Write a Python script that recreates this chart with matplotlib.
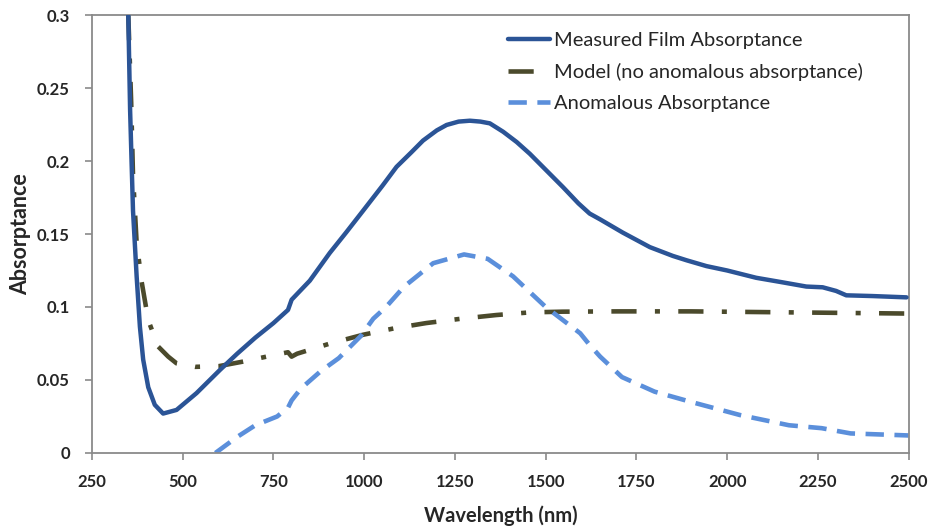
import matplotlib
matplotlib.use("Agg")
import matplotlib.pyplot as plt

plt.rcParams['font.family'] = ['Lato', 'DejaVu Sans']

# Measured film absorptance
meas_wl = [350, 355, 359, 363, 373, 382, 391, 405, 423, 446, 483, 538, 603, 650, 700, 750,
           790, 800, 850, 905, 950, 997, 1050, 1089, 1130, 1162, 1200, 1227, 1260, 1291,
           1320, 1346, 1383, 1420, 1456, 1500, 1548, 1590, 1621, 1650, 1712, 1787, 1850,
           1888, 1943, 2000, 2080, 2150, 2218, 2263, 2300, 2328, 2400, 2494]
meas_val = [0.300, 0.235, 0.200, 0.166, 0.121, 0.0865, 0.064, 0.045, 0.033, 0.027, 0.0295,
            0.041, 0.057, 0.068, 0.079, 0.089, 0.098, 0.105, 0.118, 0.137, 0.151, 0.166,
            0.183, 0.196, 0.206, 0.214, 0.221, 0.2247, 0.227, 0.2276, 0.227, 0.2258, 0.220,
            0.213, 0.205, 0.194, 0.182, 0.171, 0.164, 0.160, 0.151, 0.141, 0.135, 0.132,
            0.128, 0.125, 0.120, 0.117, 0.114, 0.1135, 0.111, 0.108, 0.1075, 0.1066]

# Model (no anomalous absorptance)
model_wl = [350, 358, 363, 373, 387, 405, 432, 460, 483, 534, 600, 666, 750, 790, 800, 815,
            906, 997, 1085, 1171, 1268, 1364, 1456, 1547, 1700, 1900, 2100, 2300, 2500]
model_val = [0.300, 0.240, 0.190, 0.144, 0.117, 0.091, 0.073, 0.066, 0.0614, 0.059, 0.0595,
             0.0626, 0.067, 0.069, 0.066, 0.068, 0.075, 0.081, 0.0855, 0.089, 0.092,
             0.0945, 0.0963, 0.0968, 0.097, 0.097, 0.0965, 0.096, 0.0955]

# Anomalous absorptance
anom_wl = [590, 650, 700, 760, 790, 800, 825, 880, 930, 990, 1025, 1060, 1110, 1190, 1275,
           1340, 1410, 1500, 1595, 1621, 1650, 1710, 1800, 1900, 2035, 2170, 2260, 2340, 2500]
anom_val = [0.0, 0.011, 0.019, 0.025, 0.031, 0.036, 0.044, 0.056, 0.065, 0.080, 0.092, 0.100,
            0.114, 0.130, 0.136, 0.133, 0.121, 0.100, 0.082, 0.074, 0.066, 0.052, 0.042,
            0.035, 0.026, 0.019, 0.017, 0.0134, 0.012]

x_ticks = [250, 500, 750, 1000, 1250, 1500, 1750, 2000, 2250, 2500]
y_ticks = [0, 0.05, 0.1, 0.15, 0.2, 0.25, 0.3]
y_tick_labels = ['0', '0.05', '0.1', '0.15', '0.2', '0.25', '0.3']

fig = plt.figure(figsize=(9.32, 5.29), dpi=100)
ax = fig.add_axes([0.0987, 0.1437, 0.8763, 0.8279])

ax.plot(meas_wl, meas_val, color='#2b5496', lw=3.2, solid_capstyle='round',
        solid_joinstyle='round', label='Measured Film Absorptance', zorder=3)
ax.plot(model_wl, model_val, color='#4b4a2c', lw=3.3,
        dashes=(5.5, 4.0, 1.1, 4.0), dash_capstyle='butt',
        label='Model (no anomalous absorptance)', zorder=2)
ax.plot(anom_wl, anom_val, color='#5b8fdb', lw=3.3, dashes=(4.0, 2.3),
        dash_joinstyle='round', label='Anomalous Absorptance', zorder=2)

ax.set_xlim(250, 2500)
ax.set_ylim(0, 0.3)
ax.set_xticks(x_ticks)
ax.set_xticklabels([str(t) for t in x_ticks])
ax.set_yticks(y_ticks)
ax.set_yticklabels(y_tick_labels)

for s in ax.spines.values():
    s.set_color('#8a8a8a')
    s.set_linewidth(1.3)
ax.tick_params(axis='x', direction='out', length=5, width=1.2, color='#8a8a8a',
               labelsize=12, pad=10)
ax.tick_params(axis='y', direction='out', length=5, width=1.2, color='#8a8a8a',
               labelsize=12, pad=11)
for lbl in ax.get_xticklabels() + ax.get_yticklabels():
    lbl.set_fontweight('bold')
    lbl.set_color('#262626')

ax.set_xlabel('Wavelength (nm)', fontsize=14.5, fontweight='bold', labelpad=11,
              color='#262626')
ax.set_ylabel('Absorptance', fontsize=15.5, fontweight='bold', labelpad=4,
              color='#262626')

leg = ax.legend(loc='upper left', bbox_to_anchor=(508 / 932, 1 - 32 / 529),
                bbox_transform=fig.transFigure, fontsize=14.5, frameon=False,
                handlelength=2.1, handletextpad=0.2, labelspacing=0.68,
                borderaxespad=0.0, borderpad=0.0)
for t in leg.get_texts():
    t.set_color('#262626')

fig.savefig('out.png', dpi=100)
